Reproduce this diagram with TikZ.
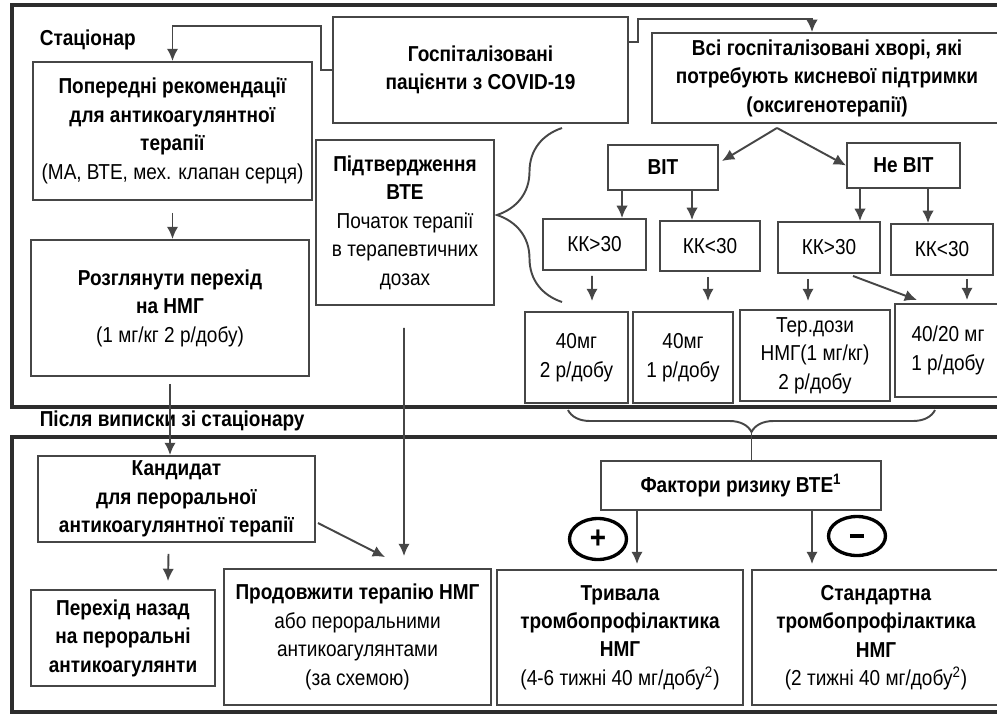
\documentclass[tikz,border=0pt]{standalone}
\usepackage{fontspec}
\setmainfont{Liberation Sans}[FakeStretch=0.88]
\usetikzlibrary{arrows.meta,positioning,calc,shapes,decorations.pathreplacing}

\definecolor{linegray}{RGB}{70,70,70}
\definecolor{framegray}{RGB}{45,45,45}

\begin{document}
\begin{tikzpicture}[x=0.02cm,y=-0.02cm,>={Latex[length=7pt,width=6.5pt]},line width=1.1pt,
                    font=\fontsize{12.3}{16.2}\selectfont]
  \tikzstyle{box}=[draw=linegray,rectangle,align=center,inner sep=1pt,text=black]
  \tikzstyle{frame}=[draw=framegray,line width=2.6pt]
  \tikzstyle{conn}=[->,draw=linegray,line width=1.1pt]
  \tikzstyle{sign}=[draw=black,ellipse,line width=1.9pt,inner sep=0pt,font=\fontsize{18}{18}\selectfont\bfseries]
  \tikzstyle{brc}=[draw=linegray,line width=1.1pt,decorate]

  \useasboundingbox (0,0) rectangle (997,714);

  \draw[frame] (12,5) rectangle (1012,407);
  \draw[frame] (12,437) rectangle (1012,712);

  \node[anchor=west]   (inlab)  at (33,40)  {\textbf{Стаціонар}};
  \node[anchor=west]   (outlab) at (33,421) {\textbf{Після виписки зі стаціонару}};

  \node[box,minimum width=5.9cm,minimum height=2.12cm]  (hosp)    at (480.5,70)  {\textbf{Госпіталізовані}\\\textbf{пацієнти з COVID-19}};
  \node[box,minimum width=5.58cm,minimum height=2.76cm] (prev)    at (172.5,131) {\textbf{Попередні рекомендації}\\\textbf{для антикоагулянтної}\\\textbf{терапії}\\(МА, ВТЕ, мех. клапан серця)};
  \node[box,minimum width=7cm,minimum height=1.8cm]     (all)     at (827,78)    {\textbf{Всі госпіталізовані хворі, які}\\\textbf{потребують кисневої підтримки}\\\textbf{(оксигенотерапії)}};
  \node[box,minimum width=3.56cm,minimum height=3.3cm]  (confirm) at (405,222.5) {\textbf{Підтвердження}\\\textbf{ВТЕ}\\Початок терапії\\в терапевтичних\\дозах};
  \node[box,minimum width=5.56cm,minimum height=2.72cm] (rozg)    at (170,308)   {\textbf{Розглянути перехід}\\\textbf{на НМГ}\\(1 мг/кг 2 р/добу)};

  \node[box,minimum width=2.2cm,minimum height=0.9cm]   (vit)     at (663,167.5)   {\textbf{ВІТ}};
  \node[box,minimum width=2.26cm,minimum height=0.9cm]  (nevit)   at (903.5,165.5) {\textbf{Не ВІТ}};

  \node[box,minimum width=2.06cm,minimum height=1.02cm] (kk1) at (594.5,244.5) {КК>30};
  \node[box,minimum width=2cm,minimum height=1cm]       (kk2) at (710,246)     {КК<30};
  \node[box,minimum width=2.04cm,minimum height=1.02cm] (kk3) at (829,247.5)   {КК>30};
  \node[box,minimum width=2.04cm,minimum height=1.02cm] (kk4) at (942,249.5)   {КК<30};

  \node[box,minimum width=2.06cm,minimum height=1.82cm] (r1) at (576.5,357.5) {40мг\\2 р/добу};
  \node[box,minimum width=2cm,minimum height=1.82cm]    (r2) at (683,357.5)   {40мг\\1 р/добу};
  \node[box,minimum width=3cm,minimum height=1.82cm]    (r3) at (815,355.5)   {Тер.дози\\НМГ(1 мг/кг)\\2 р/добу};
  \node[box,minimum width=2.12cm,minimum height=1.86cm] (r4) at (948,350.5)   {40/20 мг\\1 р/добу};

  \node[box,minimum width=5.54cm,minimum height=1.72cm] (kand) at (176.5,499) {\textbf{Кандидат}\\\textbf{для пероральної}\\\textbf{антикоагулянтної терапії}};
  \node[box,minimum width=3.68cm,minimum height=1.92cm] (back) at (123,638)   {\textbf{Перехід назад}\\\textbf{на пероральні}\\\textbf{антикоагулянти}};
  \node[box,minimum width=5.34cm,minimum height=2.72cm] (cont) at (357.5,637) {\textbf{Продовжити терапію НМГ}\\або пероральними\\антикоагулянтами\\(за схемою)};
  \node[box,minimum width=5.6cm,minimum height=0.98cm]  (risk) at (741,485.5) {\textbf{Фактори ризику ВТЕ\textsuperscript{1}}};
  \node[box,minimum width=4.92cm,minimum height=2.7cm]  (long) at (620,637.5) {\textbf{Тривала}\\\textbf{тромбопрофілактика}\\\textbf{НМГ}\\(4-6 тижні 40 мг/добу\textsuperscript{2})};
  \node[box,minimum width=4.96cm,minimum height=2.7cm]  (std)  at (876,637.5) {\textbf{Стандартна}\\\textbf{тромбопрофілактика}\\\textbf{НМГ}\\(2 тижні 40 мг/добу\textsuperscript{2})};

  \node[sign,minimum width=1.14cm,minimum height=0.82cm] (plus)  at (598,539) {+};
  \node[sign,minimum width=1.14cm,minimum height=0.78cm] (minus) at (857,536) {\rule{8pt}{2.4pt}};

  \draw[conn] (hosp.west) -- ++(-11,0) |- ([yshift=0.7cm]prev.north) -- (prev.north);
  \draw[conn] ([yshift=-0.52cm]hosp.north east) -- ++(9,0) |- ($(all.north)+(-15,-13)$) -- ($(all.north)+(-15,0)$);
  \draw[conn] ($(all.south)+(-50,4)$) -- ($(vit.north east)+(3,17)$);
  \draw[conn] ($(all.south)+(-50,4)$) -- (nevit.west);

  \draw[conn] ($(vit.south)+(-41,0)$)     -- ($(kk1.north)+(27.5,0)$);
  \draw[conn] ($(vit.south)+(29,0)$)      -- ($(kk2.north)+(-18,0)$);
  \draw[conn] ($(nevit.south)+(-43.5,0)$) -- ($(kk3.north)+(31,0)$);
  \draw[conn] ($(nevit.south)+(24.5,0)$)  -- ($(kk4.north)+(-14,0)$);

  \draw[conn] ($(kk1.south)+(-2.5,5)$) -- ($(r1.north)+(15.5,-10)$);
  \draw[conn] ($(kk2.south)+(-2,5)$)   -- ($(r2.north)+(25,-10)$);
  \draw[conn] ($(kk3.south)+(-21,5)$)  -- ($(r3.north)+(-7,-8)$);
  \draw[conn] ($(kk4.south)+(25,3)$)   -- ($(r4.north)+(19,-3)$);
  \draw[conn] ($(kk3.south)+(24,2)$)   -- ($(r4.north west)+(23,-3)$);

  \draw[brc,decoration={brace,amplitude=1.3cm}] (562,302) -- (562,128);

  \draw[conn,shorten <=0.24cm] (prev.south) -- (prev.south |- rozg.north);
  \draw[conn,shorten <=0.14cm] (rozg.south) -- (rozg.south |- kand.north);
  \draw[conn] ($(kand.south)+(-8,11)$) -- ($(back.north)+(45,-8)$);
  \draw[conn] ($(kand.east)+(2,24)$)   -- ($(cont.north)+(27.5,-11)$);
  \draw[conn] ($(confirm.south)+(-1,22)$) -- ($(cont.north)+(46.5,-12)$);

  \draw[brc,decoration={brace,amplitude=0.44cm}] (935,410) -- (568,410);
  \coordinate (btip) at (751.5,432);
  \draw[draw=linegray] (btip) -- (btip |- risk.north);

  \draw[conn] ($(risk.south)+(-104,0)$) -- ($(long.north)+(17,-5)$);
  \draw[conn] ($(risk.south)+(71,0)$)   -- ($(std.north)+(-64,-5)$);
\end{tikzpicture}
\end{document}
